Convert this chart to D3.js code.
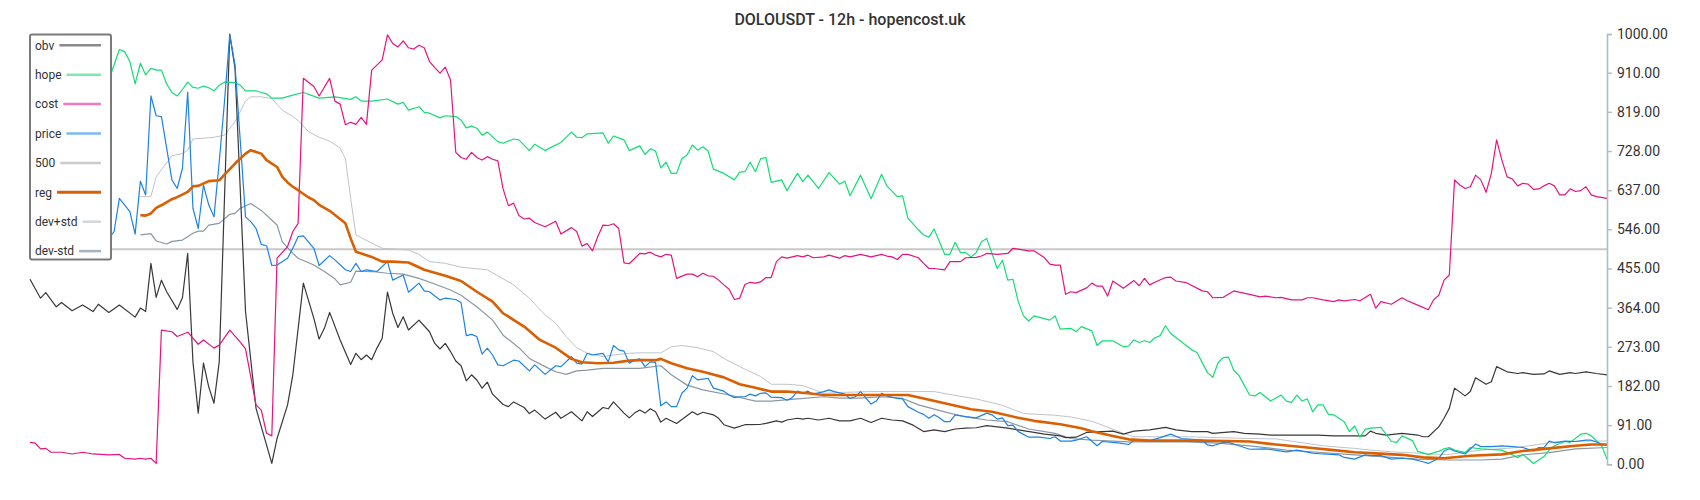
<!DOCTYPE html>
<html>
<head>
<meta charset="utf-8">
<script src="https://cdn.jsdelivr.net/npm/d3@7"></script>
<style>
  body { margin: 0; background: #fff; }
  svg { display: block; font-family: Roboto, "Noto Sans", sans-serif; }
</style>
</head>
<body>
<svg id="chart"></svg>
<script>
// values: [candle index, value]
const obvData = [[0,430],[2,386],[3,399],[5,366],[6,376],[8,357],[10,370],[12,355],[13,372],[15,353],[17,370],[20,342],[21,363],[22,355],[23,467],[24,388],[25,428],[26,401],[28,360],[29,387],[30,490],[31,238],[32,119],[33,235],[34,180],[35,142],[36,238],[38,1000],[39,920],[41,355],[43,130],[46,2],[47,60],[49,138],[50,208],[52,421],[54,339],[55,291],[56,316],[57,353],[59,289],[61,232],[62,258],[63,243],[64,254],[65,243],[66,270],[67,293],[68,400],[69,351],[70,318],[71,343],[72,312],[74,335],[76,308],[77,281],[78,268],[79,281],[80,262],[81,240],[82,229],[83,194],[84,208],[85,196],[86,177],[87,191],[88,163],[90,139],[91,134],[92,145],[94,132],[95,118],[96,126],[98,105],[100,121],[101,107],[103,122],[105,101],[106,122],[107,111],[109,132],[110,129],[111,145],[113,119],[114,108],[115,119],[116,126],[117,119],[118,129],[119,122],[120,98],[121,107],[123,95],[126,122],[127,115],[128,121],[130,115],[131,107],[132,92],[134,84],[136,92],[139,93],[140,95],[142,101],[143,98],[144,103],[146,107],[147,105],[148,107],[150,103],[152,107],[154,101],[156,101],[158,107],[160,97],[162,107],[164,103],[166,101],[168,91],[170,76],[172,80],[174,76],[176,82],[178,84],[180,85],[182,90],[184,87],[186,84],[188,80],[191,74],[193,70],[196,66],[197,62],[199,63],[201,74],[204,76],[206,77],[208,70],[210,77],[213,80],[216,86],[218,80],[221,76],[224,76],[225,72],[229,76],[231,72],[234,70],[236,68],[245,68],[248,66],[254,66],[255,77],[256,72],[258,68],[261,72],[264,68],[265,64],[266,64],[268,87],[269,107],[270,130],[271,177],[273,159],[274,169],[275,201],[277,186],[278,192],[279,227],[281,215],[283,211],[284,213],[286,209],[288,210],[289,217],[291,209],[293,213],[294,211],[296,215],[298,211],[300,208]];

const hopeData = [[15,893],[17,964],[18,959],[19,936],[20,884],[21,932],[22,905],[23,920],[24,916],[25,916],[26,884],[27,864],[28,856],[29,871],[30,888],[31,876],[32,874],[33,879],[34,875],[35,868],[36,881],[37,888],[39,887],[40,881],[41,868],[43,868],[44,864],[45,861],[46,851],[48,851],[50,858],[52,864],[55,851],[58,854],[61,848],[62,854],[63,844],[65,844],[68,849],[70,837],[71,841],[72,823],[74,831],[75,818],[76,816],[78,805],[79,810],[81,808],[82,800],[83,782],[84,786],[85,781],[86,765],[87,772],[89,750],[90,746],[92,756],[93,754],[95,729],[96,744],[98,729],[99,736],[101,748],[103,772],[104,760],[105,759],[106,768],[109,770],[110,746],[111,763],[113,754],[114,729],[116,740],[117,720],[118,733],[119,728],[120,689],[121,702],[122,676],[123,676],[124,710],[125,719],[126,742],[127,730],[128,738],[129,728],[130,686],[132,676],[134,661],[135,679],[136,680],[137,702],[138,680],[139,710],[140,713],[141,655],[143,661],[144,636],[146,676],[147,657],[148,672],[150,641],[152,678],[154,651],[155,658],[156,624],[158,672],[160,617],[162,674],[163,647],[165,622],[166,624],[167,572],[169,545],[170,533],[171,528],[172,547],[174,488],[175,488],[176,516],[177,492],[178,492],[179,482],[180,492],[181,517],[182,525],[184,455],[185,474],[186,428],[187,430],[188,378],[189,345],[190,333],[191,345],[194,335],[195,345],[196,314],[198,316],[199,308],[200,320],[202,310],[203,276],[204,287],[206,287],[208,273],[209,275],[210,289],[211,283],[212,287],[213,283],[214,294],[215,299],[216,322],[217,304],[221,266],[222,260],[224,213],[225,202],[226,236],[227,248],[228,249],[229,218],[230,206],[232,161],[233,159],[234,167],[236,147],[238,161],[239,147],[240,144],[241,161],[242,147],[243,152],[244,122],[245,138],[246,138],[247,116],[248,115],[250,99],[251,76],[252,89],[253,63],[254,81],[255,84],[257,86],[259,53],[260,51],[261,66],[263,55],[264,30],[266,23],[268,30],[269,36],[270,39],[271,33],[273,27],[274,39],[276,36],[280,33],[282,22],[283,15],[284,23],[286,2],[288,18],[289,33],[290,43],[292,53],[293,51],[295,70],[296,72],[297,66],[299,43],[300,12]];

const costData = [[0,51],[1,49],[2,36],[3,37],[4,28],[6,28],[8,24],[10,28],[12,24],[15,22],[17,23],[18,14],[20,12],[21,14],[22,12],[23,14],[24,2],[25,312],[27,308],[28,297],[30,307],[32,279],[33,289],[35,270],[36,277],[38,312],[40,284],[41,268],[43,138],[44,126],[45,72],[46,66],[47,479],[49,506],[50,541],[51,560],[52,897],[54,878],[55,856],[57,897],[58,844],[59,837],[60,789],[61,795],[62,790],[63,806],[64,790],[65,916],[67,940],[68,998],[69,978],[70,970],[71,984],[72,968],[73,965],[74,974],[75,968],[76,936],[77,922],[78,909],[79,923],[80,893],[81,725],[82,713],[83,709],[84,725],[85,713],[86,707],[87,715],[88,709],[89,705],[90,640],[91,601],[92,607],[93,578],[94,570],[95,572],[96,562],[98,552],[100,565],[101,535],[103,550],[104,541],[105,507],[106,513],[107,496],[108,529],[109,556],[110,555],[111,559],[112,548],[113,468],[114,466],[116,490],[117,489],[118,493],[119,486],[120,482],[121,488],[122,486],[123,432],[125,442],[126,442],[127,436],[128,444],[129,438],[130,437],[131,428],[132,417],[133,407],[134,383],[135,386],[136,418],[137,423],[138,421],[139,424],[140,434],[141,434],[142,471],[143,482],[144,479],[146,485],[147,482],[148,486],[149,480],[151,482],[152,486],[154,479],[155,485],[156,482],[158,488],[160,482],[162,488],[163,484],[164,482],[165,476],[166,488],[167,488],[169,480],[170,467],[171,455],[172,455],[174,452],[175,471],[177,471],[178,480],[180,481],[181,484],[182,490],[184,488],[185,489],[186,490],[187,502],[188,500],[190,496],[191,496],[193,480],[194,465],[195,463],[196,463],[197,395],[198,401],[199,399],[201,410],[202,421],[203,414],[204,414],[205,391],[206,426],[208,409],[210,427],[211,415],[212,432],[213,417],[214,423],[216,434],[217,435],[218,426],[220,422],[223,403],[224,401],[225,387],[227,388],[229,403],[230,400],[232,395],[234,389],[235,391],[237,387],[238,388],[240,382],[242,382],[243,387],[244,387],[246,382],[248,378],[249,382],[250,380],[252,383],[253,380],[255,395],[256,363],[257,378],[259,372],[261,387],[262,380],[264,370],[266,359],[267,382],[268,393],[269,428],[270,440],[271,661],[272,649],[273,641],[274,645],[275,672],[276,661],[277,632],[278,676],[279,754],[280,707],[281,668],[282,663],[283,647],[284,653],[285,651],[286,639],[287,640],[288,647],[289,653],[290,647],[291,626],[292,626],[293,640],[294,634],[295,636],[296,645],[297,626],[298,622],[300,618]];

const priceData = [[15,525],[16,541],[17,618],[19,587],[20,535],[21,658],[22,626],[23,856],[24,810],[25,808],[27,661],[28,641],[29,688],[30,865],[31,595],[32,548],[33,649],[34,603],[35,575],[36,703],[37,843],[38,998],[39,928],[41,575],[42,564],[43,548],[44,511],[45,508],[46,462],[47,463],[49,479],[50,502],[51,529],[52,531],[54,502],[55,462],[57,485],[58,475],[60,452],[61,448],[62,467],[63,448],[64,452],[66,448],[68,471],[69,428],[71,440],[72,400],[74,421],[75,403],[76,401],[78,382],[79,386],[81,383],[82,376],[83,299],[84,302],[85,297],[86,256],[87,270],[88,254],[89,231],[90,229],[92,242],[93,240],[95,217],[96,231],[98,209],[100,229],[101,227],[103,250],[104,235],[105,233],[106,258],[107,254],[108,256],[109,258],[110,238],[111,276],[112,266],[113,263],[114,235],[115,242],[116,245],[117,227],[118,238],[119,237],[120,136],[121,145],[122,134],[123,134],[124,165],[125,177],[126,206],[127,196],[128,198],[129,200],[130,177],[132,170],[133,161],[134,155],[135,157],[136,157],[137,163],[138,159],[139,165],[140,166],[141,156],[143,155],[144,149],[145,155],[146,170],[147,165],[148,170],[149,163],[151,169],[152,173],[153,169],[155,163],[156,153],[157,157],[158,169],[160,140],[161,147],[162,165],[163,159],[165,153],[166,152],[167,134],[169,121],[170,116],[171,107],[172,115],[173,108],[174,99],[175,99],[176,115],[178,111],[180,108],[182,119],[183,115],[184,105],[185,108],[186,90],[187,91],[188,76],[190,63],[192,63],[194,60],[195,64],[196,54],[198,54],[199,56],[201,64],[203,43],[204,53],[207,50],[209,46],[210,55],[213,55],[215,62],[217,70],[219,60],[223,56],[224,45],[225,43],[227,51],[228,51],[230,43],[232,35],[235,36],[239,29],[241,33],[244,26],[246,24],[249,22],[250,16],[252,12],[254,22],[255,20],[257,20],[259,12],[261,14],[263,12],[265,6],[266,2],[268,14],[269,31],[270,36],[271,31],[273,24],[275,47],[276,41],[278,41],[280,43],[282,41],[284,39],[286,31],[287,39],[288,39],[289,54],[290,50],[292,54],[294,53],[296,56],[297,56],[300,43]];

const regData = [[21,579],[22,578],[23,583],[24,596],[25,602],[27,616],[28,621],[30,633],[31,646],[32,647],[34,658],[36,660],[37,673],[39,699],[41,722],[42,730],[43,726],[44,722],[45,707],[47,691],[48,668],[49,655],[50,645],[51,637],[53,620],[54,614],[55,603],[57,589],[60,560],[61,525],[62,494],[65,482],[67,471],[69,471],[72,469],[75,452],[79,438],[82,426],[85,401],[88,378],[90,351],[94,320],[97,289],[100,271],[103,245],[105,237],[108,235],[111,236],[114,241],[116,242],[119,242],[120,245],[122,235],[125,223],[128,215],[132,202],[135,186],[138,178],[141,169],[144,169],[148,165],[151,161],[154,161],[160,161],[167,161],[170,153],[174,142],[179,128],[183,122],[188,108],[191,101],[196,93],[200,84],[202,77],[206,66],[209,58],[213,55],[223,55],[232,53],[237,46],[243,39],[248,33],[252,28],[255,26],[261,22],[265,16],[269,14],[274,20],[280,23],[284,31],[289,37],[294,43],[297,46],[300,46]];

const devPlusData = [[21,622],[23,622],[24,668],[27,717],[29,722],[30,730],[31,756],[35,760],[37,765],[39,796],[41,844],[42,854],[44,854],[46,850],[48,823],[50,808],[51,799],[53,773],[55,760],[57,751],[59,735],[60,710],[61,618],[62,533],[65,514],[67,502],[72,498],[74,488],[76,471],[79,467],[82,458],[87,452],[89,438],[92,417],[95,386],[98,347],[100,328],[102,297],[104,271],[106,258],[109,250],[111,254],[114,258],[116,259],[120,259],[122,273],[124,276],[127,271],[130,262],[132,246],[135,227],[139,204],[141,186],[144,186],[147,183],[151,165],[154,167],[160,169],[172,169],[176,160],[180,152],[185,137],[189,118],[195,114],[198,110],[202,100],[204,91],[208,72],[210,64],[220,64],[226,62],[232,60],[237,59],[241,52],[246,43],[252,37],[255,33],[259,29],[264,26],[267,22],[270,23],[276,33],[282,38],[287,46],[290,52],[295,54],[300,54]];

const devMinusData = [[21,533],[23,536],[24,519],[26,512],[27,518],[29,521],[31,537],[32,542],[33,542],[34,556],[36,560],[38,581],[39,583],[40,595],[42,606],[44,590],[47,556],[48,517],[50,490],[51,479],[54,463],[56,448],[58,431],[59,417],[61,423],[62,449],[65,448],[68,444],[71,442],[74,432],[77,419],[80,405],[82,393],[85,366],[88,335],[90,300],[93,271],[95,246],[98,227],[100,215],[102,209],[104,217],[106,219],[109,223],[113,223],[116,223],[120,229],[122,208],[125,184],[128,173],[133,161],[138,147],[141,147],[146,152],[151,157],[154,154],[158,154],[162,157],[166,153],[169,138],[174,122],[178,110],[182,103],[186,99],[190,82],[195,72],[198,60],[202,56],[204,55],[209,52],[220,52],[226,49],[232,43],[239,33],[245,28],[252,22],[257,18],[264,12],[270,10],[276,10],[280,12],[284,22],[289,27],[294,36],[300,39]];

const level500 = 500;
const yTicks = [0, 91, 182, 273, 364, 455, 546, 637, 728, 819, 910, 1000];
const candleCount = 301;

const width = 1700;
const height = 500;

const svg = d3.select('#chart')
    .attr('width', width)
    .attr('height', height);

const x = d3.scaleLinear().domain([0, candleCount - 1]).range([30, 1607]);
const y = d3.scaleLinear().domain([0, 1000]).range([464.3, 34]);

const line = d3.line()
    .x(d => x(d[0]))
    .y(d => y(d[1]));

// title
svg.append('text')
    .attr('x', 850)
    .attr('y', 25)
    .attr('text-anchor', 'middle')
    .style('font-size', '16px')
    .style('font-weight', 500)
    .style('fill', '#333')
    .text('DOLOUSDT - 12h - hopencost.uk');

// the 500 level
svg.append('line')
    .attr('x1', x(0)).attr('x2', x(candleCount - 1))
    .attr('y1', y(level500)).attr('y2', y(level500))
    .style('stroke', '#c8c8c8')
    .style('stroke-width', 2);

const series = [
    {name: 'dev+std', data: devPlusData, color: '#bfc4c9', w: 1},
    {name: 'dev-std', data: devMinusData, color: '#8a97a3', w: 1.2},
    {name: 'obv', data: obvData, color: '#383838', w: 1.2},
    {name: 'hope', data: hopeData, color: '#12de74', w: 1.2},
    {name: 'cost', data: costData, color: '#e5147f', w: 1.2},
    {name: 'price', data: priceData, color: '#1e82e4', w: 1.2},
    {name: 'reg', data: regData, color: '#d95f02', w: 2.6}
];

svg.append('g')
    .selectAll('path')
    .data(series)
    .enter().append('path')
    .attr('d', d => line(d.data))
    .style('fill', 'none')
    .style('stroke', d => d.color)
    .style('stroke-width', d => d.w)
    .style('stroke-linejoin', 'round');

// right axis
const axis = svg.append('g')
    .attr('transform', `translate(${x(candleCount - 1)},0)`)
    .call(d3.axisRight(y)
        .tickValues(yTicks)
        .tickFormat(d3.format('.2f'))
        .tickSize(5)
        .tickSizeOuter(5)
        .tickPadding(5));

axis.select('.domain').style('stroke', '#b3bcc3').style('stroke-width', 1.6);
axis.selectAll('.tick line').style('stroke', '#b3bcc3').style('stroke-width', 1.4);
axis.selectAll('.tick text')
    .style('font-family', 'Roboto, sans-serif')
    .style('font-size', '14px')
    .style('fill', '#333');

// legend
const legendItems = [
    {name: 'obv', color: '#8a8a8a', w: 2.5},
    {name: 'hope', color: '#7fe9b0', w: 2.5},
    {name: 'cost', color: '#ee7cbd', w: 2.5},
    {name: 'price', color: '#7cb8f0', w: 2.5},
    {name: '500', color: '#cccccc', w: 2.5},
    {name: 'reg', color: '#d95f02', w: 3},
    {name: 'dev+std', color: '#d3d7db', w: 2.5},
    {name: 'dev-std', color: '#a9b3bb', w: 2.5}
];

const legend = svg.append('g');

legend.append('rect')
    .attr('x', 30).attr('y', 34.5)
    .attr('width', 81).attr('height', 225)
    .attr('rx', 2)
    .style('fill', '#fff')
    .style('stroke', '#7a7a7a')
    .style('stroke-width', 2);

const item = legend.selectAll('g.item')
    .data(legendItems)
    .enter().append('g')
    .attr('class', 'item')
    .attr('transform', (d, i) => `translate(0,${45.3 + i * 29.4})`);

item.append('text')
    .attr('x', 35)
    .attr('dy', '0.35em')
    .style('font-size', '12px')
    .style('fill', '#333')
    .text(d => d.name);

item.each(function (d) {
    const g = d3.select(this);
    const tw = g.select('text').node().getComputedTextLength();
    g.append('line')
        .attr('x1', 35 + tw + 5).attr('x2', 101)
        .attr('y1', 0).attr('y2', 0)
        .style('stroke', d.color)
        .style('stroke-width', d.w);
});
</script>
</body>
</html>
